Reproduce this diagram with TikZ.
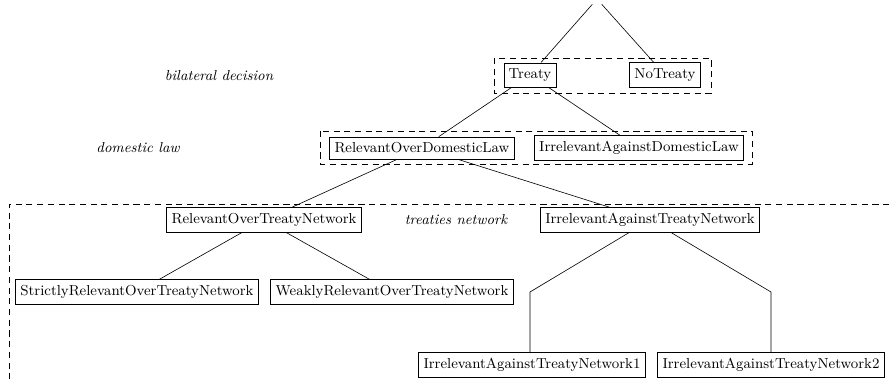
\documentclass[tikz,border=0pt]{standalone}
\begin{document}
\begin{tikzpicture}[x=0.6536pt,y=-0.6536pt,
  every node/.style={font=\fontsize{9.45pt}{11pt}\selectfont},
  box/.style={draw,rectangle,inner xsep=3.2pt,inner ysep=3.8pt},
  lbl/.style={font=\fontsize{9.45pt}{11pt}\selectfont\itshape},
  grp/.style={draw,dashed,dash pattern=on 4pt off 3pt},
  edge/.style={draw}]
\useasboundingbox (0,0) rectangle (890,381);
\node[inner sep=3.3pt] (root) at (597,-1) {};
\node[box] (treaty) at (530,75) {Treaty};
\node[box] (notreaty) at (665,75) {NoTreaty};
\node[lbl] (bil) at (219,76) {bilateral decision};
\node[box] (rodl) at (422,148) {RelevantOverDomesticLaw};
\node[box] (iadl) at (639,148) {IrrelevantAgainstDomesticLaw};
\node[lbl] (dom) at (138,148) {domestic law};
\node[box] (rotn) at (264,220) {RelevantOverTreatyNetwork};
\node[box] (iatn) at (650,220) {IrrelevantAgainstTreatyNetwork};
\node[lbl] (tn) at (456,220) {treaties network};
\node[box] (srotn) at (137,292) {StrictlyRelevantOverTreatyNetwork};
\node[box] (wrotn) at (392,292) {WeaklyRelevantOverTreatyNetwork};
\node[box] (iatn1) at (532,365) {IrrelevantAgainstTreatyNetwork1};
\node[box] (iatn2) at (771,365) {IrrelevantAgainstTreatyNetwork2};
\coordinate (b1) at (530,292);
\coordinate (b2) at (771,292);
% groups
\draw[grp] (494,58) rectangle (711,93);
\draw[grp] (320,131) rectangle (752,164);
\draw[grp] (900,204) -- (9,204) -- (9,395);
% edges
\draw[edge] (root) -- (treaty);
\draw[edge] (root) -- (notreaty);
\draw[edge] (treaty) -- (rodl);
\draw[edge] (treaty) -- (iadl);
\draw[edge] (rodl) -- (rotn);
\draw[edge] (rodl) -- (iatn);
\draw[edge] (rotn) -- (srotn);
\draw[edge] (rotn) -- (wrotn);
\draw[edge] (iatn) -- (b1) -- (b1 |- iatn1.north);
\draw[edge] (iatn) -- (b2) -- (b2 |- iatn2.north);
\end{tikzpicture}
\end{document}
